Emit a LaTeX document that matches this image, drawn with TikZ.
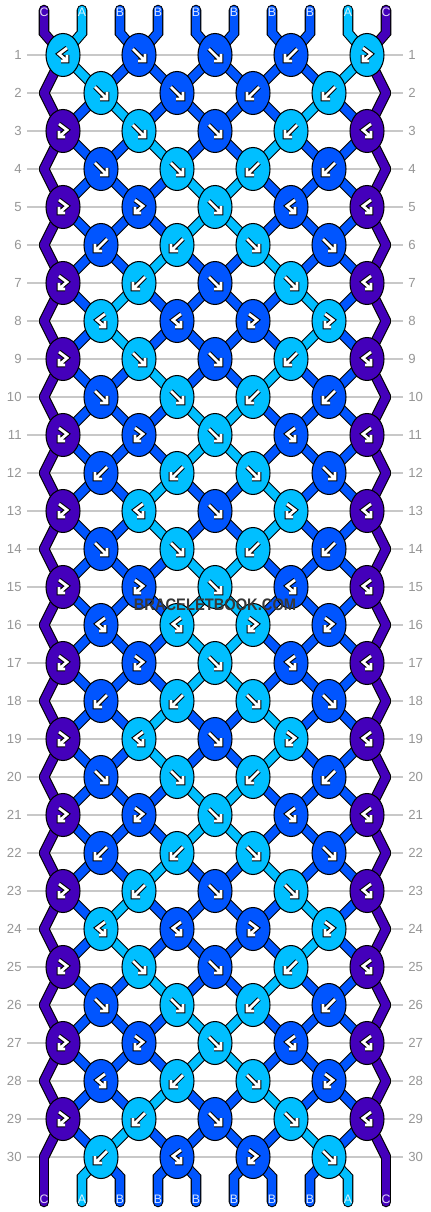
\documentclass[tikz,border=0pt]{standalone}
\usepackage{fontspec}
\setmainfont{Liberation Sans}
\usetikzlibrary{shapes.geometric}

\definecolor{colA}{RGB}{0,191,255}
\definecolor{colB}{RGB}{0,85,255}
\definecolor{colC}{RGB}{68,0,187}
\definecolor{gridgray}{RGB}{200,200,200}
\definecolor{numgray}{RGB}{150,150,150}
\definecolor{markgray}{RGB}{55,55,55}

\def\stI{C,A,B,B,B,B,B,B,A,C}
\def\stII{C,B,A,B,B,B,B,A,B,C}
\def\stIII{C,B,B,A,B,B,A,B,B,C}
\def\stIV{C,B,B,B,A,A,B,B,B,C}

\def\glyphf{(-6,-6) -- (6,6) (6,-1) -- (6,6) -- (-1,6)}
\def\glyphb{(6,-6) -- (-6,6) (-6,-1) -- (-6,6) -- (1,6)}
\def\glyphfb{(-4,-7) -- (4,-1) -- (-4,6) (-4,0) -- (-4,6) -- (2,6)}
\def\glyphbf{(4,-7) -- (-4,-1) -- (4,6) (4,0) -- (4,6) -- (-2,6)}

\tikzset{
  knot/.style={ellipse,draw=black,line width=0.6pt,minimum width=0.68cm,minimum height=0.86cm,inner sep=0pt},
  wire out/.style={draw=black,line width=6pt,line cap=round},
  wire in/.style={line width=4.8pt,line cap=round},
  glyph out/.style={draw=black,line width=2.8pt,line cap=square,line join=miter},
  glyph in/.style={draw=white,line width=1.6pt,line cap=square,line join=miter},
  rowno/.style={text=numgray,font=\fontsize{7.5}{8}\selectfont,inner sep=0pt},
  endlbl/.style={font=\fontsize{7}{7}\selectfont,inner sep=0pt},
  watermark/.style={text=markgray,font=\bfseries\fontsize{9.5}{10}\selectfont,inner sep=0pt,xscale=0.88}
}

\begin{document}
\begin{tikzpicture}[x=0.02cm,y=-0.02cm]
\fill[white] (0,0) rectangle (430,1212);
\useasboundingbox (0,0) rectangle (430,1212);

\foreach \rr in {1,...,30}{
  \pgfmathtruncatemacro\yy{17+38*\rr}
  \draw[gridgray,line width=0.6pt] (27,\yy) -- (403,\yy);
  \node[rowno,anchor=east] (numl-\rr) at (22,\yy) {\rr};
  \node[rowno,anchor=west] (numr-\rr) at (408,\yy) {\rr};
  \ifodd\rr \def\off{1}\else\def\off{0}\fi
  \foreach \pp in {1,...,10}{
    \pgfmathtruncatemacro\xx{\off==1 ? 76*int((\pp+1)/2)-13 : (\pp==1 ? 44 : (\pp==10 ? 386 : 76*int(\pp/2)+25))}
    \coordinate (s-\rr-\pp) at (\xx,\yy);
  }
}

\foreach \pp in {1,...,10}{
  \pgfmathtruncatemacro\xx{6+38*\pp}
  \coordinate (top-\pp) at (\xx,10);
  \coordinate (topbend-\pp) at (\xx,33);
  \coordinate (botbend-\pp) at (\xx,1177);
  \coordinate (bot-\pp) at (\xx,1202);
}

\foreach \w in {wire out,wire in}{
  \foreach \cl [count=\pp] in \stI{
    \draw[draw=col\cl,\w] (top-\pp) -- (topbend-\pp) -- (s-1-\pp);
    \draw[draw=col\cl,\w] (s-30-\pp) -- (botbend-\pp) -- (bot-\pp);
  }
  \foreach \rr/\sid in {1/I,2/II,3/III,4/IV,5/IV,6/III,7/II,8/II,9/III,10/IV,
      11/IV,12/III,13/III,14/IV,15/IV,16/IV,17/IV,18/III,19/III,20/IV,
      21/IV,22/III,23/II,24/II,25/III,26/IV,27/IV,28/III,29/II}{
    \pgfmathtruncatemacro\nr{\rr+1}
    \edef\lst{\csname st\sid\endcsname}
    \foreach \cl [count=\pp] in \lst
      \draw[draw=col\cl,\w] (s-\rr-\pp) -- (s-\nr-\pp);
  }
}

\foreach \rr/\row in {
  1/{A/bf,B/f,B/f,B/b,A/fb},
  2/{A/f,B/f,B/b,A/b},
  3/{C/fb,A/f,B/f,A/b,C/bf},
  4/{B/f,A/f,A/b,B/b},
  5/{C/fb,B/fb,A/f,B/bf,C/bf},
  6/{B/b,A/b,A/f,B/f},
  7/{C/fb,A/b,B/f,A/f,C/bf},
  8/{A/bf,B/bf,B/fb,A/fb},
  9/{C/fb,A/f,B/f,A/b,C/bf},
  10/{B/f,A/f,A/b,B/b},
  11/{C/fb,B/fb,A/f,B/bf,C/bf},
  12/{B/b,A/b,A/f,B/f},
  13/{C/fb,A/bf,B/f,A/fb,C/bf},
  14/{B/f,A/f,A/b,B/b},
  15/{C/fb,B/fb,A/f,B/bf,C/bf},
  16/{B/bf,A/bf,A/fb,B/fb},
  17/{C/fb,B/fb,A/f,B/bf,C/bf},
  18/{B/b,A/b,A/f,B/f},
  19/{C/fb,A/bf,B/f,A/fb,C/bf},
  20/{B/f,A/f,A/b,B/b},
  21/{C/fb,B/fb,A/f,B/bf,C/bf},
  22/{B/b,A/b,A/f,B/f},
  23/{C/fb,A/b,B/f,A/f,C/bf},
  24/{A/bf,B/bf,B/fb,A/fb},
  25/{C/fb,A/f,B/f,A/b,C/bf},
  26/{B/f,A/f,A/b,B/b},
  27/{C/fb,B/fb,A/f,B/bf,C/bf},
  28/{B/bf,A/b,A/f,B/fb},
  29/{C/fb,A/b,B/f,A/f,C/bf},
  30/{A/b,B/bf,B/fb,A/f}}{
  \ifodd\rr \def\off{1}\else\def\off{0}\fi
  \foreach \cl/\kt [count=\kk] in \row{
    \pgfmathtruncatemacro\pp{2*\kk-\off}
    \node[knot,fill=col\cl] (k-\rr-\kk) at (s-\rr-\pp) {};
    \edef\gl{\csname glyph\kt\endcsname}
    \draw[glyph out,shift={(k-\rr-\kk)}] \gl;
    \draw[glyph in,shift={(k-\rr-\kk)}] \gl;
  }
}

\foreach \cl [count=\pp] in \stI{
  \node[endlbl,text=col\cl!15!white] (lbltop-\pp) at ([yshift=-0.04cm]top-\pp) {\cl};
  \node[endlbl,text=col\cl!15!white] (lblbot-\pp) at ([yshift=0.06cm]bot-\pp) {\cl};
}

\node[watermark] (wm) at (215,605) {BRACELETBOOK.COM};
\end{tikzpicture}
\end{document}
